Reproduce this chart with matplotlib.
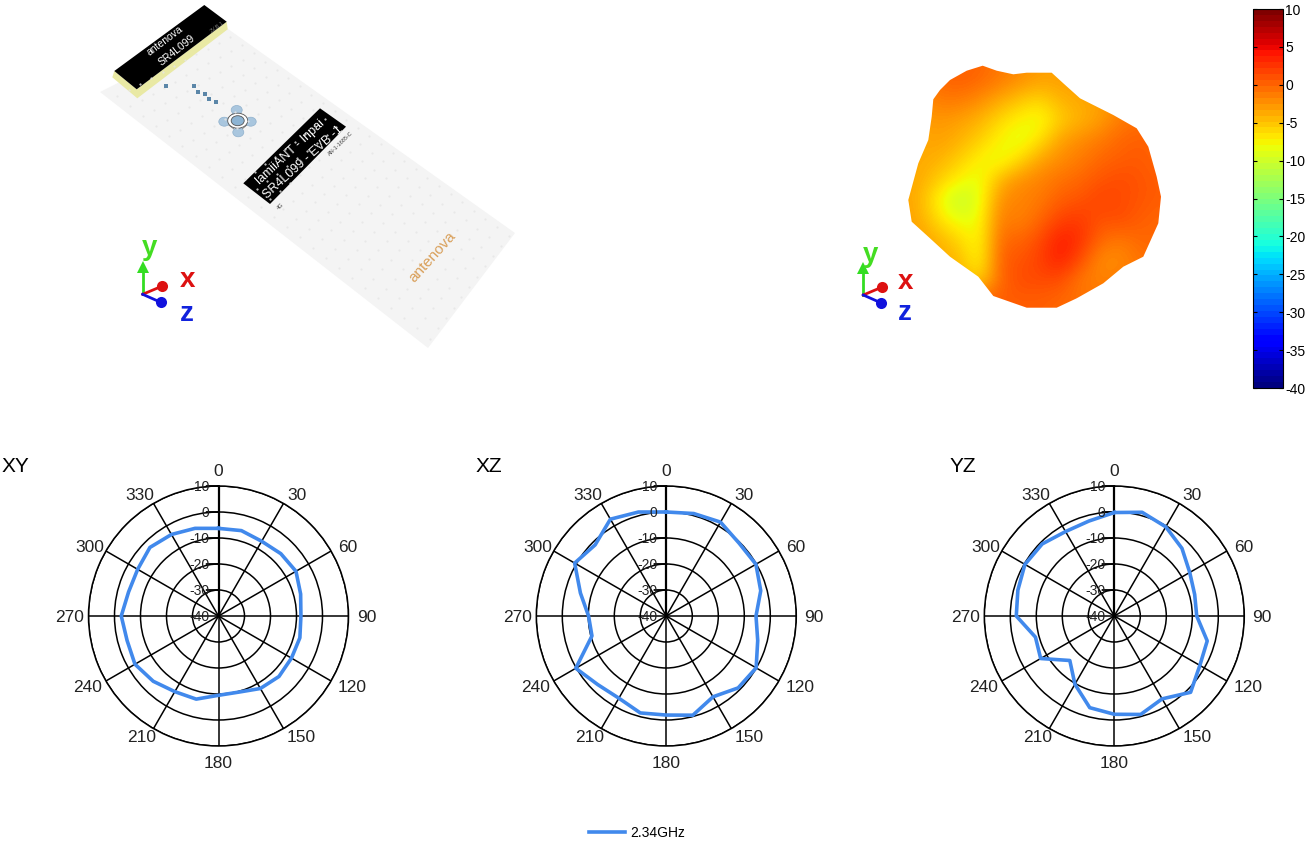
# -*- coding: utf-8 -*-
import numpy as np
import matplotlib
matplotlib.use("Agg")
import matplotlib.pyplot as plt
from matplotlib.patches import Polygon, Ellipse

plt.rcParams['font.family'] = ['Liberation Sans', 'DejaVu Sans']
plt.rcParams['axes.unicode_minus'] = False

W, H = 1306, 843

# -------------------- polar data (dB, every 15 deg) --------------------
angles = np.arange(0, 375, 15)
xy_gain = [-6.3, -6.0, -6.8, -6.1, -5.6, -7.3, -8.3, -7.6, -7.6, -7.1, -7.8, -9.7,
           -9.5, -6.9, -6.4, -4.5, -2.9, -3.6, -2.6, -4.2, -4.1, -2.7, -3.8, -5.1, -6.3]
xz_gain = [0.0, 0.8, 1.7, -0.4, -0.2, -2.4, -5.5, -3.6, -0.1, -0.9, -4.1, -0.5,
           -1.9, -1.4, -3.5, -2.7, 0.2, -10.4, -10.1, -5.8, 0.7, -1.3, 3.0, 1.4, 0.0]
yz_gain = [-0.2, 1.3, -0.4, -3.2, -6.5, -8.0, -8.3, -3.0, -2.0, 1.5, -3.2, -0.8,
           -2.2, -3.5, -9.7, -15.8, -7.3, -8.6, -2.3, -1.6, -0.3, -0.8, -2.5, -2.2, -0.2]
panel_names = ["XY", "XZ", "YZ"]
panel_gains = [xy_gain, xz_gain, yz_gain]
panel_centers = [218.5, 666.3, 1114.3]
title_x = [2, 476, 950]
ring_values = [-40, -30, -20, -10, 0, 10]
spoke_angles = np.arange(0, 360, 30)
# label offsets from the centre of each dial, pixels
label_dx = [0, 78, 129, 148, 134, 83, 0, -77, -131, -149, -129, -79]
label_dy = [-144, -120, -69, 1, 71, 122, 148, 122, 71, 1, -69, -120]
legend_label = "2.34GHz"
line_color = "#4189ec"

# -------------------- 3D pattern colours (dB on a 20 px grid) --------------------
blob_x = np.arange(900, 1161, 20)
blob_y = np.arange(60, 321, 20)
blob_db = np.array([
    [-1.0, -1.0, 0.0, 0.5, 0.0, -1.0, -2.0, -3.0, -3.0, -3.0, -2.0, -1.0, 0.0, 0.0],
    [-1.0, -1.0, 0.0, 0.5, 0.0, -1.0, -2.0, -3.0, -3.0, -3.0, -2.0, -1.0, 0.0, 0.0],
    [-2.0, -2.0, -1.0, -1.0, -2.0, -3.5, -5.0, -6.0, -4.0, -3.5, -3.0, -2.0, -1.0, -1.0],
    [-3.0, -3.0, -2.5, -3.0, -4.0, -6.0, -7.5, -8.3, -5.5, -4.0, -3.0, -1.0, -0.5, -0.5],
    [-3.5, -3.5, -3.0, -4.0, -5.5, -7.5, -8.8, -6.5, -3.0, -2.0, -1.0, 0.0, 0.5, 0.0],
    [-3.5, -3.5, -4.0, -5.5, -7.5, -8.5, -6.0, -3.0, -2.0, -1.0, 0.0, 0.5, 0.8, 0.0],
    [-3.5, -3.5, -5.5, -7.5, -8.5, -4.0, -2.0, -1.5, -0.5, 0.0, 1.0, 1.5, 1.0, 0.5],
    [-3.0, -4.0, -8.0, -10.8, -8.5, -2.0, -1.5, -1.0, 0.5, 1.0, 2.0, 1.5, 1.0, 0.5],
    [-3.0, -3.5, -6.5, -8.5, -8.0, -1.0, -1.5, 0.0, 2.0, 2.5, 1.0, 1.5, 0.5, 0.0],
    [-3.0, -3.0, -4.0, -6.0, -8.0, 0.0, 0.0, 1.5, 4.0, 3.0, 0.0, -1.0, 0.0, 0.0],
    [-3.0, -3.0, -3.5, -4.5, -8.0, 0.5, 1.0, 2.0, 4.0, 1.5, -2.0, -2.0, -0.5, -0.5],
    [-3.0, -3.0, -3.0, -3.5, -6.0, 0.0, 1.5, 1.5, 1.5, -1.0, -1.5, -1.0, -1.0, -1.0],
    [0.5, 0.5, 0.5, 0.5, 0.5, 0.5, 0.5, 0.5, 0.0, -0.5, -0.5, -0.5, -0.5, -0.5],
    [0.5, 0.5, 0.5, 0.5, 0.5, 0.5, 0.5, 0.5, 0.0, -0.5, -0.5, -0.5, -0.5, -0.5],
])
blob_outline = [(982.7, 65.7), (966.7, 70.7), (950, 80), (940, 90), (933.3, 99.3), (931.7, 116.7),
                (928.3, 140), (918.3, 163.3), (908.3, 200), (911.7, 221.7), (930, 238.3), (950, 256.7),
                (978.3, 276.7), (993.3, 296), (1026.7, 307.7), (1056.7, 307.7), (1076.7, 298.3),
                (1103.3, 283.3), (1123.3, 266.7), (1143.3, 256.7), (1158.3, 223.3), (1161, 196.7),
                (1156.7, 176.7), (1148.3, 146.7), (1136.7, 128.3), (1113.3, 115), (1080, 98.3),
                (1063.3, 83.3), (1051.7, 72.7), (1026.7, 72.7), (1013.3, 74.3), (996.7, 70.7)]
cbar_ticks = [-40, -35, -30, -25, -20, -15, -10, -5, 0, 5, 10]

# -------------------- board drawing (pixels) --------------------
board = [(100, 92), (226.7, 28), (515, 233), (428, 348)]
block_top = [(114.3, 71), (204.3, 5), (226.7, 21.7), (136.7, 89.3)]
block_side = [(114.3, 71), (136.7, 89.3), (226.7, 21.7), (227.7, 29.3), (137.3, 98.3), (112.3, 77.3)]
label_box = [(243.3, 183.3), (320, 108.3), (346, 126.7), (270, 204)]
vias = [(166, 86), (194, 86), (198.3, 91.7), (205, 94), (209.3, 99.3), (215.7, 101.7)]
feed_pads = [(236.7, 110), (224.3, 121.7), (250.7, 121.7), (238.3, 132.3)]

fig = plt.figure(figsize=(W / 100, H / 100), dpi=100)
canvas = fig.add_axes([0, 0, 1, 1])
canvas.set_axis_off()

canvas.add_patch(Polygon(board, fc="#f4f4f4", ec="none"))
# faint via grid on the board
c0, c1, c2, c3 = [np.array(c) for c in board]
for u in np.arange(0.06, 1, 0.09):
    for v in np.arange(0.03, 1, 0.04):
        p = (1 - v) * (c0 + u * (c1 - c0)) + v * (c3 + u * (c2 - c3))
        canvas.plot(p[0], p[1], ".", ms=1, color="#e6e6e6")

canvas.add_patch(Polygon(block_side, fc="#e9e9a4", ec="none"))
canvas.add_patch(Polygon(block_top, fc="black", ec="none"))
canvas.text(165, 41, "antenova", color="white", fontsize=7.5, rotation=37,
            ha="center", va="center", rotation_mode="anchor")
canvas.text(177, 50, "SR4L099", color="white", fontsize=7.5, rotation=38,
            ha="center", va="center", rotation_mode="anchor")
canvas.text(216.7, 26.7, "2V.B.1", color="#777777", fontsize=4, rotation=37,
            ha="center", va="center", rotation_mode="anchor")

canvas.add_patch(Polygon(label_box, fc="black", ec="none"))
canvas.text(290.5, 152.5, "lamiiANT - Inpai", color="white", fontsize=9, rotation=43,
            ha="center", va="center", rotation_mode="anchor")
canvas.text(303.5, 162, "SR4L099 - EVB -1", color="white", fontsize=9, rotation=42,
            ha="center", va="center", rotation_mode="anchor")
canvas.text(340.7, 144, "AN-1-1685-C", color="#444444", fontsize=4, rotation=44,
            ha="center", va="center", rotation_mode="anchor")
canvas.text(280, 206, "4G", color="#444444", fontsize=4, rotation=44,
            ha="center", va="center", rotation_mode="anchor")
canvas.text(432.5, 257, "antenova", color="#d9a05b", fontsize=11, rotation=48,
            ha="center", va="center", rotation_mode="anchor")

for vx, vy in vias:
    canvas.plot(vx, vy, "s", ms=2.2, color="#5b86a8", mew=0)
canvas.add_patch(Polygon(feed_pads[:1] + feed_pads[2:3] + feed_pads[3:] + feed_pads[1:2], fc="none", ec="#666666", lw=0.5))
for px, py in feed_pads:
    canvas.add_patch(Ellipse((px, py), 11, 9, fc="#a9c6de", ec="#8fb0cc", lw=0.5))
canvas.add_patch(Ellipse((237.7, 120.7), 20, 15, fc="white", ec="#555555", lw=0.6))
canvas.add_patch(Ellipse((237.7, 120.7), 13, 10, fc="#8db4d3", ec="#555555", lw=0.6))

# 3D pattern
im = canvas.imshow(blob_db, cmap="jet", vmin=-40, vmax=10, interpolation="bicubic", aspect="auto",
                   extent=(890, 1170, 330, 50), zorder=2)
clip = Polygon(blob_outline, fc="none", ec="none", transform=canvas.transData)
canvas.add_patch(clip)
im.set_clip_path(clip)

# axis triads
triads = [((142.7, 294.3), (150, 248), (187.7, 280), (186.7, 314)),
          ((863.3, 295), (870.7, 255), (906, 282), (905, 313))]
for origin, y_pos, x_pos, z_pos in triads:
    ox, oy = origin
    canvas.plot([ox, ox], [oy, oy - 24], color="#33dd22", lw=2)
    canvas.plot(ox, oy - 27, "^", ms=9, color="#33dd22", mew=0)
    canvas.plot([ox, ox + 19], [oy, oy - 8], color="#dd1111", lw=2)
    canvas.plot(ox + 19, oy - 8, "o", ms=8, color="#dd1111", mew=0)
    canvas.plot([ox, ox + 18], [oy, oy + 8], color="#1111dd", lw=2)
    canvas.plot(ox + 18, oy + 8, "o", ms=8, color="#1111dd", mew=0)
    canvas.text(y_pos[0], y_pos[1], "y", color="#44dd22", fontsize=20, fontweight="bold", ha="center", va="center")
    canvas.text(x_pos[0], x_pos[1], "x", color="#dd1111", fontsize=20, fontweight="bold", ha="center", va="center")
    canvas.text(z_pos[0], z_pos[1], "z", color="#1122dd", fontsize=20, fontweight="bold", ha="center", va="center")

canvas.set_xlim(0, W)
canvas.set_ylim(H, 0)

# colour bar
cax = fig.add_axes([1253 / W, 1 - 388 / H, 30 / W, 379 / H])
sm = plt.cm.ScalarMappable(norm=plt.Normalize(-40, 10), cmap=plt.get_cmap("jet", 64))
cbar = fig.colorbar(sm, cax=cax, ticks=cbar_ticks)
cbar.ax.tick_params(direction="in", left=True, right=True, labelsize=10, pad=1.5, length=3, width=0.8)
cbar.outline.set_linewidth(0.8)

# -------------------- polar panels --------------------
lines = []
for name, gain, cx, tx in zip(panel_names, panel_gains, panel_centers, title_x):
    ax = fig.add_axes([(cx - 130) / W, (H - 616 - 130) / H, 260 / W, 260 / H], projection="polar")
    ax.set_theta_zero_location("N")
    ax.set_theta_direction(-1)
    ax.patch.set_alpha(0)
    line, = ax.plot(np.deg2rad(angles), gain, color=line_color, lw=2.6, zorder=5)
    lines.append(line)
    ax.set_ylim(ring_values[0], ring_values[-1])
    ax.set_yticks(ring_values)
    ax.set_yticklabels([])
    ax.set_xticks(np.deg2rad(spoke_angles))
    ax.set_xticklabels([])
    ax.grid(True, color="black", lw=1.1)
    ax.spines["polar"].set_linewidth(1.1)
    ax.plot([0, 0], [ring_values[0], ring_values[-1]], color="black", lw=1.6, zorder=3)
    for a, dx, dy in zip(spoke_angles, label_dx, label_dy):
        ax.annotate(str(a), xy=(0, ring_values[0]), xytext=(dx, -dy), textcoords="offset pixels",
                    ha="center", va="center", fontsize=12.5, color="#222222", annotation_clip=False)
    for v in ring_values:
        if v > ring_values[0]:
            ax.annotate("", xy=(0, v), xytext=(-12, 0), textcoords="offset pixels",
                        arrowprops=dict(arrowstyle="-", lw=1.3, color="black", shrinkA=0, shrinkB=0), zorder=3)
        ax.annotate(str(v), xy=(0, v), xytext=(-9, -1), textcoords="offset pixels",
                    ha="right", va="center", fontsize=10, color="#222222", zorder=6)
    fig.text(tx / W, 1 - 466 / H, name, fontsize=15, ha="left", va="center", color="black")

fig.legend(handles=[lines[0]], labels=[legend_label], loc="center", bbox_to_anchor=(637 / W, 1 - 833 / H),
           frameon=False, fontsize=10, handlelength=2.6, handletextpad=0.43, borderpad=0)

fig.savefig("out.png", dpi=100)
